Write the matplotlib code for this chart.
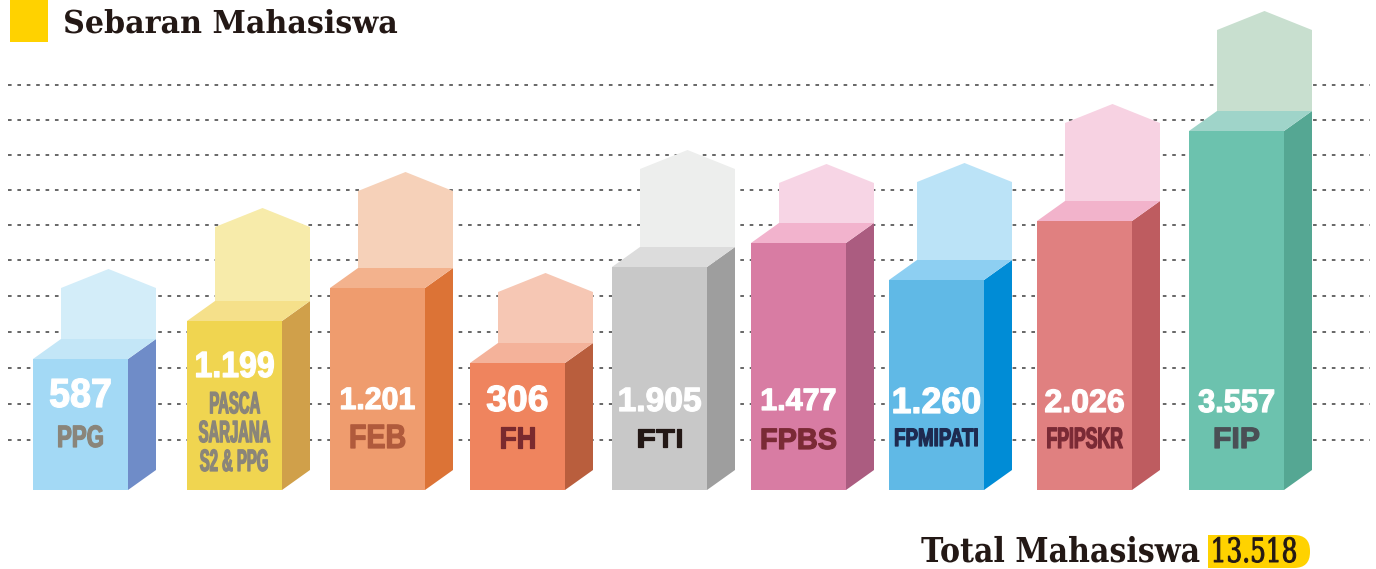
import matplotlib.pyplot as plt
from matplotlib.patches import Polygon, Rectangle, FancyBboxPatch
from matplotlib.patheffects import AbstractPathEffect
from matplotlib.transforms import Affine2D
from matplotlib.textpath import TextPath
from matplotlib.font_manager import FontProperties

# data read from the infographic
faculties = ['PPG', 'PASCA\nSARJANA\nS2 & PPG', 'FEB', 'FH', 'FTI',
             'FPBS', 'FPMIPATI', 'FPIPSKR', 'FIP']
students = [587, 1199, 1201, 306, 1905, 1477, 1260, 2026, 3557]
# bar heights as drawn in the infographic (not proportional to counts)
bar_heights = [131, 169, 202, 127, 223, 247, 210, 269, 359]
ghost_heights = [51, 74, 77, 51, 78, 40, 78, 78, 81]

# colours: front, side, top, ghost arrow, label
front_cols = ['#a3d9f5', '#f0d550', '#ef9c6e', '#ef845e', '#c8c8c8',
              '#d87ca3', '#60b9e6', '#e08080', '#6cc2ae']
side_cols = ['#6f8cc8', '#d0a04a', '#dc7336', '#b95e3d', '#9e9e9e',
             '#ab5c80', '#008cd6', '#be5c60', '#55a793']
top_cols = ['#c3e6f7', '#f5e08a', '#f3b28d', '#f4b29a', '#dcdcdc',
            '#f2b3cd', '#8dcff2', '#f2b3cb', '#9fd4c9']
ghost_cols = ['#d3edf9', '#f7ebaa', '#f6d1b9', '#f6c7b4', '#edeeed',
              '#f7d5e5', '#bbe3f7', '#f7d2e2', '#c8dfcf']
label_cols = ['#8a857a', '#8a857a', '#b05a3c', '#7a2a2e', '#231815',
              '#7a2a35', '#1e2a50', '#7a2a35', '#4a4f55']

# layout (pixels)
lefts = [33, 187, 330, 470, 612, 751, 889, 1037, 1189]
W, DX, DY, PEAK = 95, 28, 20, 19
BASE = 490  # baseline row in the image
val_base = [407, 377, 409, 411, 411, 410, 413, 412, 412]
val_h = [30, 27, 23, 27, 25, 23, 27, 24, 24]
val_w = [60, 77, 73, 60, 81, 73, 86, 78, 75]
lab_base = [447, 471, 448, 448, 447, 449, 446, 448, 448]  # last line baseline
lab_h = [23, 23, 25, 23, 20, 22, 19, 22, 22]
lab_w = [44, 71, 54, 33, 43, 74, 82, 75, 44]


class Squeeze(AbstractPathEffect):
    """Scale text horizontally about an anchor, with optional thickening."""

    def __init__(self, sx, anchor='center', stroke=0.0):
        super().__init__()
        self.sx = sx
        self.anchor = anchor
        self.stroke = stroke

    def draw_path(self, renderer, gc, tpath, affine, rgbFace=None):
        bb = tpath.get_extents(affine)
        x0 = {'left': bb.x0, 'right': bb.x1}.get(self.anchor, (bb.x0 + bb.x1) / 2)
        t = affine + Affine2D().translate(-x0, 0).scale(self.sx, 1).translate(x0, 0)
        if self.stroke > 0:
            gc0 = renderer.new_gc()
            gc0.copy_properties(gc)
            gc0.set_linewidth(self.stroke)
            gc0.set_foreground(rgbFace)
            gc0.set_joinstyle('round')
            renderer.draw_path(gc0, tpath, t, rgbFace)
            gc0.restore()
        else:
            renderer.draw_path(gc, tpath, t, rgbFace)


def yy(img_y):
    return BASE - img_y


def fit_text(ax, x, img_y, s, h, w, color, family='Liberation Sans',
             weight='bold', ha='center', capr=0.716, stroke=0.9,
             linespacing=1.0):
    size = (h - stroke) / capr * 0.72
    fp = FontProperties(family=family, weight=weight)
    natural = max(TextPath((0, 0), line, size=size / 0.72, prop=fp).get_extents().width
                  for line in s.split('\n'))
    ax.text(x, yy(img_y), s, ha=ha, va='baseline', color=color,
            fontsize=size, fontweight=weight, family=family, zorder=5,
            multialignment='center', linespacing=linespacing,
            path_effects=[Squeeze(w / natural, ha, stroke)])


fig = plt.figure(figsize=(13.76, 5.69), dpi=100)
ax = fig.add_axes([0, 0, 1, 1])
ax.set_xlim(0, 1376)
ax.set_ylim(-79, 490)
ax.axis('off')

for gy in [85, 120, 155, 190, 225, 260, 296, 332, 368, 404, 440]:
    ax.plot([8, 1370], [yy(gy), yy(gy)], color='#5a5a5a', lw=1.3,
            ls=(0, (2, 3.2)), zorder=1)

for i, h in enumerate(bar_heights):
    x = lefts[i]
    g = ghost_heights[i]
    ghost = [(x + DX, h + DY), (x + W + DX, h + DY), (x + W + DX, h + DY + g),
             (x + DX + W / 2, h + DY + g + PEAK), (x + DX, h + DY + g)]
    ax.add_patch(Polygon(ghost, closed=True, fc=ghost_cols[i], ec='none', zorder=2))
    ax.add_patch(Rectangle((x, 0), W, h, fc=front_cols[i], ec='none', zorder=3))
    side = [(x + W, 0), (x + W + DX, DY), (x + W + DX, h + DY), (x + W, h)]
    ax.add_patch(Polygon(side, closed=True, fc=side_cols[i], ec='none', zorder=3))
    top = [(x, h), (x + DX, h + DY), (x + W + DX, h + DY), (x + W, h)]
    ax.add_patch(Polygon(top, closed=True, fc=top_cols[i], ec='none', zorder=3))

    cx = x + W / 2
    val = f'{students[i]:,}'.replace(',', '.')
    fit_text(ax, cx, val_base[i], val, val_h[i], val_w[i], 'white')
    fit_text(ax, cx, lab_base[i], faculties[i], lab_h[i], lab_w[i],
             label_cols[i], linespacing=0.95)

# title block
ax.add_patch(Rectangle((10, yy(42)), 38, 42, fc='#ffd200', ec='none'))
fit_text(ax, 63, 33, 'Sebaran Mahasiswa', 23, 332, '#231815',
         family='DejaVu Serif', ha='left', capr=0.729, stroke=0)

# total
total = f'{sum(students):,}'.replace(',', '.')
ax.add_patch(FancyBboxPatch((1208, yy(568)), 102, 33,
                            boxstyle='round,pad=0,rounding_size=16',
                            fc='#ffd200', ec='none'))
ax.add_patch(Rectangle((1208, yy(568)), 30, 33, fc='#ffd200', ec='none'))
fit_text(ax, 1200, 562, 'Total Mahasiswa', 25, 278, '#231815',
         family='DejaVu Serif', ha='right', capr=0.729, stroke=0)
fit_text(ax, 1254, 562, total, 25, 82, '#231815',
         family='DejaVu Serif', weight='normal', capr=0.729, stroke=0.7)

fig.savefig('out.png', dpi=100)
